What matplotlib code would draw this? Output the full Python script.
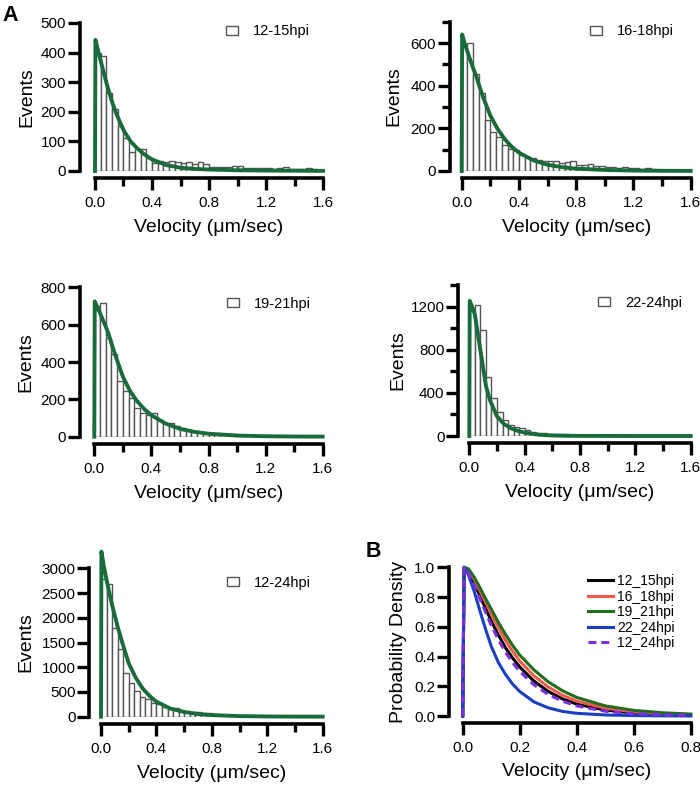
#!/usr/bin/env python3
"""Velocity histograms with fitted curves (A) and normalised densities (B)."""

import matplotlib

matplotlib.use("Agg")

import matplotlib.pyplot as plt
from matplotlib.ticker import FormatStrFormatter, MultipleLocator
import numpy as np

plt.rcParams["font.family"] = ["Liberation Sans", "DejaVu Sans"]

FIG_W, FIG_H = 700, 785
PX = 72.0 / 100.0  # points per pixel at dpi 100

# ---- data ---------------------------------------------------------------
BIN_WIDTH = 0.04

COUNTS_12_15 = [400, 388, 262, 211, 152, 112, 65, 73, 76, 43, 26, 34, 29, 34, 29, 26, 29, 24, 31, 22,
                15, 12, 12, 15, 17, 17, 11, 9, 11, 11, 9, 7, 9, 12, 7, 7, 8, 11, 6, 4]
COUNTS_16_18 = [590, 600, 456, 368, 240, 185, 160, 120, 105, 100, 75, 65, 60, 50, 45, 48, 45, 36, 44, 47,
                28, 28, 31, 25, 22, 20, 20, 15, 17, 12, 12, 10, 15, 8, 7, 6, 5, 5, 4, 4]
COUNTS_19_21 = [700, 714, 527, 443, 300, 245, 205, 152, 128, 116, 125, 89, 73, 71, 58, 48, 38, 30, 27, 22,
                18, 14, 14, 12, 12, 7, 6, 5, 5, 4, 4, 3, 3, 3, 2, 2, 2, 2, 1, 1]
COUNTS_22_24 = [1180, 1216, 985, 545, 356, 225, 151, 104, 85, 72, 57, 41, 32, 25, 22, 18, 20, 15, 12, 12,
                10, 8, 7, 6, 5, 4, 4, 3, 3, 2, 2, 2, 2, 1, 1, 1, 1, 1, 1, 1]
COUNTS_12_24 = [2780, 2677, 1787, 1369, 877, 674, 526, 405, 350, 270, 250, 202, 169, 169, 135, 121, 101, 88,
                67, 67, 47, 40, 33, 27, 25, 20, 17, 15, 12, 12, 10, 8, 8, 7, 6, 5, 5, 4, 4, 3]

FIT_X = [0.0, 0.003, 0.02, 0.04, 0.06, 0.08, 0.10, 0.12, 0.15, 0.20, 0.25, 0.30, 0.35, 0.40, 0.50,
         0.60, 0.70, 0.80, 1.00, 1.20, 1.40, 1.60]
FIT_12_15 = [0, 443, 410, 372, 335, 298, 265, 233, 193, 138, 100, 75, 55, 39, 20, 11, 7, 5, 2.5, 1.5, 1, 0.5]
FIT_16_18 = [0, 640, 600, 560, 520, 482, 448, 405, 345, 260, 198, 150, 113, 86, 50, 29, 18, 11, 5, 2, 1, 0.5]
FIT_19_21 = [0, 725, 695, 662, 625, 590, 550, 500, 430, 322, 245, 190, 148, 115, 70, 42, 26, 16, 6, 2.5, 1, 0.5]
FIT_22_24 = [0, 1253, 1200, 1127, 960, 797, 630, 466, 330, 183, 112, 72, 47, 31, 12, 5, 2, 1, 0.5, 0, 0, 0]
FIT_12_24 = [0, 3338, 3050, 2765, 2510, 2259, 2040, 1820, 1530, 1079, 790, 573, 420, 303, 165, 95, 55, 32,
             12, 5, 2, 1]

HIST_PANELS = [
    ("12-15hpi", COUNTS_12_15, FIT_12_15),
    ("16-18hpi", COUNTS_16_18, FIT_16_18),
    ("19-21hpi", COUNTS_19_21, FIT_19_21),
    ("22-24hpi", COUNTS_22_24, FIT_22_24),
    ("12-24hpi", COUNTS_12_24, FIT_12_24),
]

PDF_X = [0.0, 0.005, 0.02, 0.04, 0.06, 0.08, 0.10, 0.125, 0.15, 0.175, 0.20, 0.25, 0.30, 0.35, 0.40,
         0.50, 0.60, 0.70, 0.80]
PDF_SERIES = [
    ("12_15hpi", [0, 1.00, 0.97, 0.895, 0.81, 0.725, 0.64, 0.545, 0.46, 0.39, 0.33, 0.235, 0.165, 0.115,
                  0.080, 0.040, 0.020, 0.010, 0.006]),
    ("16_18hpi", [0, 1.00, 0.98, 0.92, 0.845, 0.765, 0.69, 0.595, 0.51, 0.435, 0.37, 0.27, 0.195, 0.14,
                  0.100, 0.053, 0.028, 0.016, 0.010]),
    ("19_21hpi", [0, 1.00, 0.99, 0.935, 0.865, 0.79, 0.72, 0.63, 0.55, 0.475, 0.41, 0.31, 0.23, 0.17,
                  0.125, 0.068, 0.038, 0.022, 0.013]),
    ("22_24hpi", [0, 1.00, 0.95, 0.84, 0.71, 0.585, 0.47, 0.36, 0.28, 0.215, 0.165, 0.095, 0.055, 0.031,
                  0.018, 0.007, 0.003, 0.001, 0.0]),
    ("12_24hpi", [0, 1.00, 0.96, 0.88, 0.79, 0.70, 0.61, 0.515, 0.43, 0.36, 0.30, 0.21, 0.145, 0.10,
                  0.068, 0.032, 0.015, 0.008, 0.004]),
]

# ---- layout (pixels) -----------------------------------------------------
# x0, x1, y_zero, y_top, y_max, major, minor, left_spine_x, bottom_spine_y, label_x, legend_x, legend_y
HIST_LAYOUT = [
    (95.0, 323.0, 171.0, 23.0, 500, 100, None, 80.0, 178.0, 27, 226, 33),
    (461.7, 690.7, 171.0, 21.7, 700, 200, 100, 450.0, 178.0, 394, 590, 33),
    (94.3, 322.7, 436.7, 287.3, 800, 200, None, 80.0, 444.3, 26, 226.7, 305.5),
    (469.3, 690.7, 436.0, 285.0, 1400, 400, 200, 458.3, 443.3, 397.5, 598, 304.5),
    (101.0, 322.7, 716.7, 568.3, 3000, 500, None, 89.3, 724.0, 26, 226.7, 584),
]
PDF_LAYOUT = (462.7, 690.7, 716.0, 567.3, 449.0, 723.0, 398.5)

FIT_GREEN = "#196B3C"
BAR_EDGE = "#555555"
PDF_STYLES = {
    "12_15hpi": dict(color="#000000", linestyle="-"),
    "16_18hpi": dict(color="#F05A4B", linestyle="-"),
    "19_21hpi": dict(color="#236B1E", linestyle="-"),
    "22_24hpi": dict(color="#1A3FC0", linestyle="-"),
    "12_24hpi": dict(color="#7B2FE0", linestyle=(0, (2.6, 1.6))),
}

fig = plt.figure(figsize=(FIG_W / 100, FIG_H / 100), dpi=100)


def add_axes_px(x0, x1, y_zero, y_top):
    return fig.add_axes([x0 / FIG_W, 1 - y_zero / FIG_H, (x1 - x0) / FIG_W, (y_zero - y_top) / FIG_H])


def style_axes(ax, x0, y_zero, y_top, xmax, ymax, spine_x, spine_y):
    for side in ("top", "right"):
        ax.spines[side].set_visible(False)
    ax.spines["left"].set_position(("outward", (x0 - spine_x) * PX))
    ax.spines["bottom"].set_position(("outward", (spine_y - y_zero) * PX))
    ax.spines["left"].set_bounds(0, ymax)
    ax.spines["bottom"].set_bounds(0, xmax)
    for side in ("left", "bottom"):
        ax.spines[side].set_linewidth(2.6)
        ax.spines[side].set_capstyle("projecting")
    ax.set_xlim(0, xmax)
    ax.set_ylim(0, ymax)
    ax.patch.set_visible(False)
    ax.tick_params(which="major", direction="out", length=8.5, width=2.4, labelsize=11)
    ax.tick_params(which="minor", direction="out", length=5.5, width=2.4)
    ax.tick_params(axis="x", which="major", pad=4.5)
    ax.tick_params(axis="y", which="major", pad=1.5)


def label_axes(ax, x0, x1, y_zero, y_top, xlabel_y, ylabel, ylabel_x):
    ax.set_xlabel("Velocity (μm/sec)", fontsize=14, va="center")
    ax.xaxis.set_label_coords(0.5, (y_zero - xlabel_y) / (y_zero - y_top))
    ax.set_ylabel(ylabel, fontsize=14, va="center")
    ax.yaxis.set_label_coords((ylabel_x - x0) / (x1 - x0), 0.5)


for (name, counts, fit), layout in zip(HIST_PANELS, HIST_LAYOUT):
    x0, x1, y_zero, y_top, ymax, major, minor, spine_x, spine_y, lab_x, leg_x, leg_y = layout
    ax = add_axes_px(x0, x1, y_zero, y_top)
    lefts = BIN_WIDTH * np.arange(len(counts))
    ax.bar(lefts, counts, width=BIN_WIDTH, align="edge", facecolor="white",
           edgecolor=BAR_EDGE, linewidth=1.0, label=name, zorder=2)
    ax.plot(FIT_X, fit, color=FIT_GREEN, linewidth=2.8, solid_joinstyle="round",
            clip_on=False, zorder=3)
    style_axes(ax, x0, y_zero, y_top, 1.6, ymax, spine_x, spine_y)
    ax.xaxis.set_major_locator(MultipleLocator(0.4))
    ax.xaxis.set_minor_locator(MultipleLocator(0.2))
    ax.xaxis.set_major_formatter(FormatStrFormatter("%.1f"))
    ax.yaxis.set_major_locator(MultipleLocator(major))
    if minor:
        ax.yaxis.set_minor_locator(MultipleLocator(minor))
    label_axes(ax, x0, x1, y_zero, y_top, spine_y + 49, "Events", lab_x)
    ax.legend(loc="upper left", bbox_to_anchor=(leg_x / FIG_W, 1 - (leg_y - 8.5) / FIG_H),
              bbox_transform=fig.transFigure, frameon=False, fontsize=10.5, borderpad=0,
              borderaxespad=0, handlelength=0.85, handleheight=0.55, handletextpad=1.0)

# ---- panel B ---------------------------------------------------------------
x0, x1, y_zero, y_top, spine_x, spine_y, lab_x = PDF_LAYOUT
axb = add_axes_px(x0, x1, y_zero, y_top)
for name, values in PDF_SERIES:
    axb.plot(PDF_X, values, linewidth=2.2, label=name, clip_on=False, **PDF_STYLES[name])
style_axes(axb, x0, y_zero, y_top, 0.8, 1.0, spine_x, spine_y)
axb.xaxis.set_major_locator(MultipleLocator(0.2))
axb.yaxis.set_major_locator(MultipleLocator(0.2))
axb.xaxis.set_major_formatter(FormatStrFormatter("%.1f"))
axb.yaxis.set_major_formatter(FormatStrFormatter("%.1f"))
label_axes(axb, x0, x1, y_zero, y_top, spine_y + 49, "Probability Density", lab_x)
axb.legend(loc="upper left", bbox_to_anchor=(588 / FIG_W, 1 - 574 / FIG_H),
           bbox_transform=fig.transFigure, frameon=False, fontsize=10, borderpad=0,
           borderaxespad=0, handlelength=1.8, handletextpad=0.3, labelspacing=0.11)

fig.text(2 / FIG_W, 1 - 5 / FIG_H, "A", fontsize=15.5, fontweight="bold", va="top", ha="left")
fig.text(366 / FIG_W, 1 - 541 / FIG_H, "B", fontsize=15.5, fontweight="bold", va="top", ha="left")

fig.savefig("out.png", dpi=100)
